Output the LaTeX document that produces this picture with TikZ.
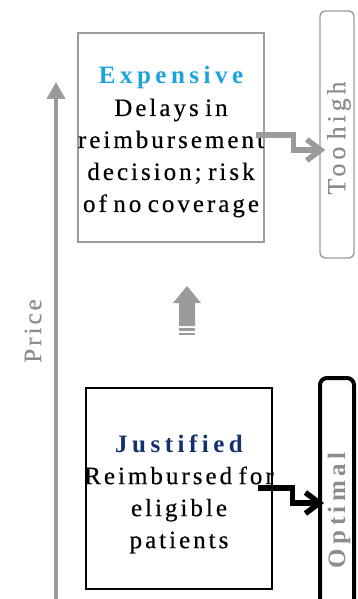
\documentclass[tikz,border=0pt]{standalone}
\usepackage{fontspec}
\setmainfont[LetterSpace=12,WordSpace=0.7,UprightFeatures={FakeBold=0.4},BoldFeatures={LetterSpace=18}]{Liberation Serif}
\usetikzlibrary{arrows.meta}
\definecolor{lgray}{HTML}{9B9B9B}
\definecolor{tgray}{HTML}{8C8C8C}
\definecolor{eblue}{HTML}{1BA3DF}
\definecolor{jnavy}{HTML}{14306E}
\tikzset{
  txt/.style={align=center, inner sep=0pt, font=\fontsize{25}{32}\selectfont},
  boxframe/.style={draw, rectangle, inner sep=0pt, line width=1.4pt},
  sidebox/.style={draw, rectangle, inner sep=0pt, rounded corners=5pt, minimum width=34pt},
  conn/.style={line width=5.5pt, -{Straight Barb[length=14pt,width=21pt]}},
}
\begin{document}
\begin{tikzpicture}[x=1pt,y=-1pt]
\useasboundingbox (0,0) rectangle (357,599);
\clip (0,0) rectangle (357,599);
% price axis
\coordinate (pbot) at (56,610);
\coordinate (ptop) at (56,82);
\draw[line width=4pt, lgray, -{Triangle[width=18pt,length=17pt]}] (pbot) -- (ptop);
\node[txt, rotate=90, text=tgray] (price) at (33,331) {Price};
% expensive
\node[boxframe, draw=lgray, minimum width=186pt, minimum height=209pt] (exp) at (171,137.5) {};
\node[txt] (exptext) at (171,142) {\textbf{\color{eblue}Expensive}\\Delays in\\reimbursement\\decision; risk\\of no coverage};
% too high
\node[sidebox, draw=lgray, line width=1.4pt, minimum height=247pt] (toohigh) at (337,134.5) {};
\node[txt, rotate=90, text=tgray, font=\fontsize{26}{30}\selectfont\addfontfeature{LetterSpace=15}] (toohightext) at (339,138) {Too high};
% justified
\node[boxframe, draw=black, minimum width=186pt, minimum height=201pt] (just) at (179,488.5) {};
\node[txt] (justtext) at (179,494) {\textbf{\color{jnavy}Justified}\\Reimbursed for\\eligible\\patients};
% optimal
\node[sidebox, draw=black, line width=4pt, rounded corners=7pt, minimum height=260pt] (optimal) at (337,508) {};
\node[txt, rotate=90, text=tgray] (optimaltext) at (339,508) {\textbf{Optimal}};
% connectors
\draw[conn, lgray] ([xshift=-9pt,yshift=2.5pt]exp.east) -- ++(38,0) |- ([xshift=6pt,yshift=-15.5pt]toohigh.west);
\draw[conn, black] ([xshift=-15pt,yshift=0.5pt]just.east) -- ++(35,0) |- ([xshift=6pt,yshift=5pt]optimal.west);
% block arrow
\fill[lgray] (187,286) -- (201,303) -- (195,303) -- (195,326) -- (179,326) -- (179,303) -- (173,303) -- cycle;
\fill[lgray] (179,328) rectangle (195,331);
\fill[lgray] (179,333) rectangle (195,335);
\end{tikzpicture}
\end{document}
